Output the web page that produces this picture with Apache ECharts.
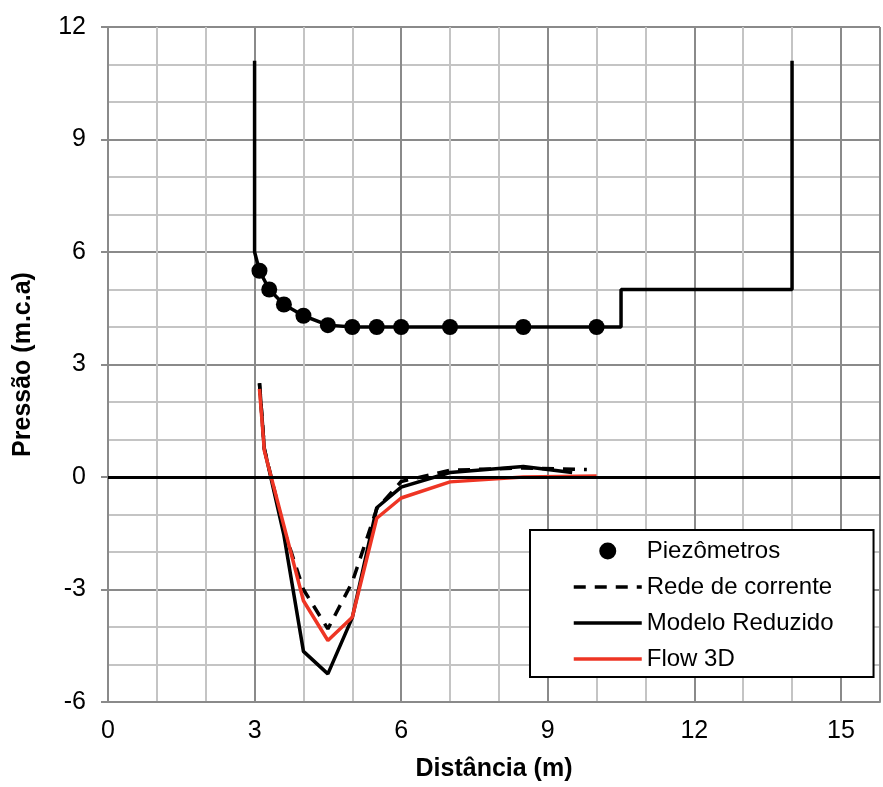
<!DOCTYPE html>
<html>
<head>
<meta charset="utf-8">
<script src="https://cdn.jsdelivr.net/npm/echarts@6/dist/echarts.min.js"></script>
<style>
  html, body { margin: 0; padding: 0; background: #fff; }
  #main { width: 883px; height: 787px; }
</style>
</head>
<body>
<div id="main"></div>
<script>
// piezômetros (pontos medidos)
var piezoX = [3.1, 3.3, 3.6, 4.0, 4.5, 5.0, 5.5, 6.0, 7.0, 8.5, 10.0];
var piezoY = [5.5, 5.0, 4.6, 4.3, 4.05, 4.0, 4.0, 4.0, 4.0, 4.0, 4.0];

// perfil da estrutura (linha preta de cima)
var perfilX = [3.0, 3.0, 3.1, 3.3, 3.6, 4.0, 4.5, 5.0, 5.5, 6.0, 7.0, 8.5, 10.0, 10.5, 10.5, 14.0, 14.0];
var perfilY = [11.1, 6.0, 5.5, 5.0, 4.6, 4.3, 4.05, 4.0, 4.0, 4.0, 4.0, 4.0, 4.0, 4.0, 5.0, 5.0, 11.1];

// rede de corrente
var redeX = [3.1, 3.2, 3.6, 4.0, 4.5, 5.0, 5.5, 6.0, 7.0, 8.5, 9.8];
var redeY = [2.5, 0.75, -1.4, -3.0, -4.05, -2.8, -0.85, -0.12, 0.18, 0.24, 0.2];

// modelo reduzido
var modeloX = [3.1, 3.2, 3.6, 4.0, 4.5, 5.0, 5.5, 6.0, 7.0, 8.5, 9.5];
var modeloY = [2.5, 0.75, -1.55, -4.65, -5.25, -3.75, -0.82, -0.27, 0.12, 0.28, 0.12];

// flow 3d
var flowX = [3.1, 3.2, 3.6, 4.0, 4.5, 5.0, 5.5, 6.0, 7.0, 8.5, 10.0];
var flowY = [2.35, 0.7, -1.3, -3.3, -4.36, -3.74, -1.1, -0.56, -0.13, 0.0, 0.03];

var xTicks = [0, 3, 6, 9, 12, 15];

function pares(xs, ys) {
    var out = [];
    for (var i = 0; i < xs.length; i++) {
        out.push([xs[i], ys[i]]);
    }
    return out;
}

var fonte = '"Liberation Sans", Arial, sans-serif';
var cinzaEscuro = '#8a8a8a';
var cinzaClaro = '#c4c4c4';
var semSimbolo = { opacity: 0 };

var myChart = echarts.init(document.getElementById('main'));

var option = {
    backgroundColor: '#fff',
    animation: false,
    grid: {
        left: 108,
        top: 27,
        width: 776,
        height: 678,
        containLabel: false
    },
    legend: {
        orient: 'vertical',
        left: 530,
        top: 530,
        data: [
            { name: 'Piezômetros' },
            { name: 'Rede de corrente', itemStyle: semSimbolo },
            { name: 'Modelo Reduzido', itemStyle: semSimbolo },
            { name: 'Flow 3D', itemStyle: semSimbolo }
        ],
        itemWidth: 68,
        itemHeight: 17,
        itemGap: 12,
        itemTextGap: 8,
        padding: [9, 40, 6, 42],
        borderColor: '#000',
        borderWidth: 2,
        backgroundColor: '#fff',
        lineStyle: { width: 3.5 },
        textStyle: {
            fontFamily: fonte,
            fontSize: 24,
            lineHeight: 22,
            color: '#000'
        }
    },
    xAxis: [
        {
            // eixo principal com rótulos, linhas de 3 em 3
            type: 'value',
            min: 0,
            max: 15.8,
            interval: 3,
            z: 1,
            name: 'Distância (m)',
            nameLocation: 'middle',
            nameGap: 55,
            nameTextStyle: {
                fontFamily: fonte,
                fontSize: 25,
                fontWeight: 'bold',
                color: '#000'
            },
            axisLine: { onZero: false, lineStyle: { color: cinzaEscuro, width: 2 } },
            axisTick: { show: false },
            axisLabel: {
                margin: 17,
                fontFamily: fonte,
                fontSize: 25,
                color: '#000',
                formatter: function (v) {
                    return xTicks.indexOf(v) >= 0 ? String(v) : '';
                }
            },
            splitLine: { show: true, lineStyle: { color: cinzaEscuro, width: 2 } }
        },
        {
            // linhas secundárias de 1 em 1
            type: 'value',
            min: 0,
            max: 15.8,
            interval: 1,
            position: 'bottom',
            z: 0,
            axisLine: { show: false },
            axisTick: { show: false },
            axisLabel: { show: false },
            splitLine: { show: true, lineStyle: { color: cinzaClaro, width: 2 } }
        }
    ],
    yAxis: {
        type: 'value',
        min: -6,
        max: 12,
        interval: 3,
        name: 'Pressão (m.c.a)',
        nameLocation: 'middle',
        nameRotate: 90,
        nameGap: 72,
        nameTextStyle: {
            fontFamily: fonte,
            fontSize: 25,
            fontWeight: 'bold',
            color: '#000'
        },
        axisLine: { show: true, onZero: false, lineStyle: { color: cinzaEscuro, width: 2 } },
        axisTick: { show: true, length: 7, lineStyle: { color: cinzaEscuro, width: 2 } },
        axisLabel: {
            margin: 22,
            fontFamily: fonte,
            fontSize: 25,
            color: '#000'
        },
        minorTick: { show: false, splitNumber: 3 },
        minorSplitLine: { show: true, lineStyle: { color: cinzaClaro, width: 2 } },
        splitLine: { show: true, lineStyle: { color: cinzaEscuro, width: 2 } }
    },
    series: [
        {
            name: 'Perfil',
            type: 'line',
            data: pares(perfilX, perfilY),
            symbol: 'none',
            lineStyle: { color: '#000', width: 3.5 },
            itemStyle: { color: '#000' },
            z: 3,
            markLine: {
                silent: true,
                symbol: 'none',
                label: { show: false },
                lineStyle: { color: '#000', width: 3, type: 'solid' },
                data: [{ yAxis: 0 }]
            }
        },
        {
            name: 'Piezômetros',
            type: 'scatter',
            data: pares(piezoX, piezoY),
            symbol: 'circle',
            symbolSize: 16,
            itemStyle: { color: '#000', opacity: 1 },
            z: 5
        },
        {
            name: 'Rede de corrente',
            type: 'line',
            data: pares(redeX, redeY),
            symbol: 'none',
            lineStyle: { color: '#000', width: 3.5, type: [12, 9] },
            itemStyle: { color: '#000' },
            z: 3
        },
        {
            name: 'Modelo Reduzido',
            type: 'line',
            data: pares(modeloX, modeloY),
            symbol: 'none',
            lineStyle: { color: '#000', width: 3.5 },
            itemStyle: { color: '#000' },
            z: 3
        },
        {
            name: 'Flow 3D',
            type: 'line',
            data: pares(flowX, flowY),
            symbol: 'none',
            lineStyle: { color: '#ee3524', width: 3.5 },
            itemStyle: { color: '#ee3524' },
            z: 4
        }
    ]
};

myChart.setOption(option);
</script>
</body>
</html>
